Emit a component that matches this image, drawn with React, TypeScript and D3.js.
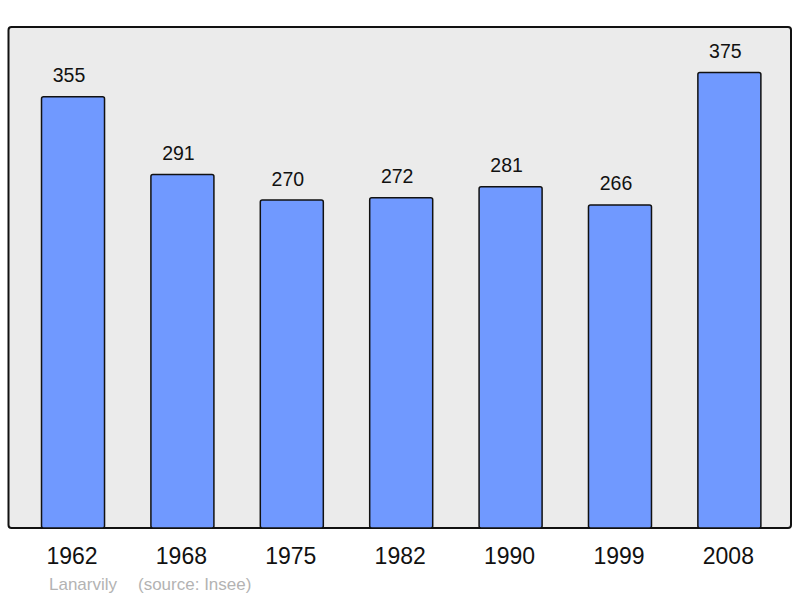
import React from "react";
import * as d3 from "d3";

const years = ["1962", "1968", "1975", "1982", "1990", "1999", "2008"];
const population = [355, 291, 270, 272, 281, 266, 375];
const title = "Lanarvily";
const source = "(source: Insee)";

export default function App() {
  const W = 800, H = 598;
  const panel = { x: 8.5, y: 27, w: 782.5, h: 501 };
  const x = d3.scaleBand<string>().domain(years).range([8.7, 793.7]).paddingInner(0.424).paddingOuter(0.3);
  const yMax = (d3.max(population) as number) * 1.1;
  const y = d3.scaleLinear().domain([0, yMax]).range([panel.y + panel.h, panel.y]);
  const font = "'Liberation Sans', Arial, sans-serif";
  return (
    <svg width={W} height={H} style={{ position: "absolute", left: 0, top: 0 }} fontFamily={font}>
      <rect x={0} y={0} width={W} height={H} fill="#ffffff" />
      <rect x={panel.x} y={panel.y} width={panel.w} height={panel.h} rx={3} fill="#ebebeb" stroke="#111" strokeWidth={2} />
      {years.map((yr, i) => {
        const bx = x(yr) as number;
        const bw = x.bandwidth();
        const top = y(population[i]);
        return (
          <g key={yr}>
            <rect x={bx} y={top} width={bw} height={y(0) - top} rx={2} fill="#7099ff" stroke="#111" strokeWidth={1.5} />
            <text x={bx + bw / 2 - 4} y={top - 14.5} textAnchor="middle" fontSize={19.5} fill="#111">{population[i]}</text>
            <text x={bx + bw / 2 - 1} y={564} textAnchor="middle" fontSize={23} fill="#111">{yr}</text>
          </g>
        );
      })}
      <text x={49} y={590} fontSize={17} fill="#b3b3b3">{title}</text>
      <text x={138} y={590} fontSize={17} fill="#b3b3b3">{source}</text>
    </svg>
  );
}
